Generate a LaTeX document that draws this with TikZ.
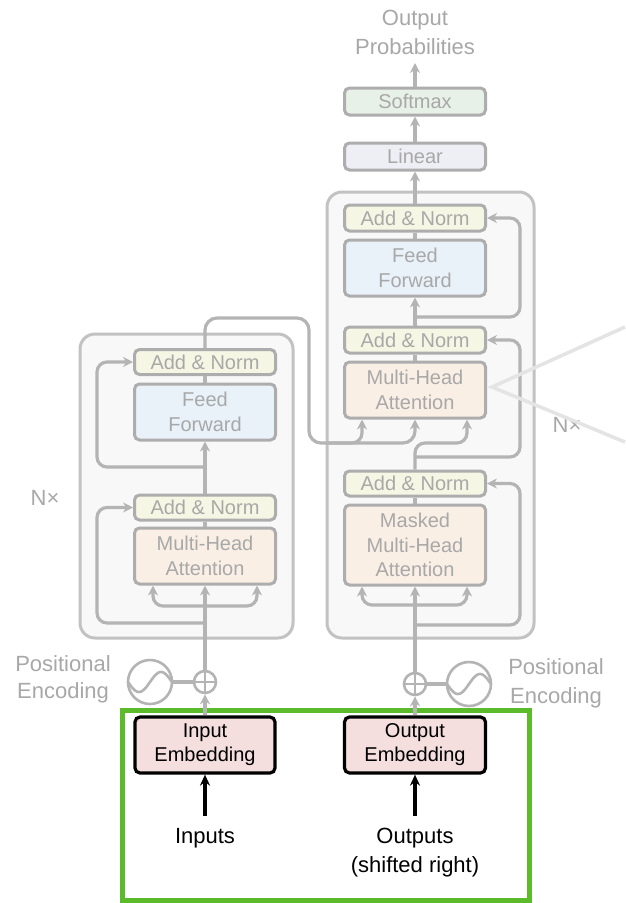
\documentclass[tikz,border=0pt]{standalone}
\usepackage{fontspec}
\setmainfont{Liberation Sans}
\usetikzlibrary{arrows.meta,calc}
\definecolor{textgray}{HTML}{A8A8A8}
\definecolor{linegray}{HTML}{B4B4B4}
\definecolor{boxgray}{HTML}{ADADAD}
\definecolor{biggray}{HTML}{C2C2C2}
\definecolor{bigfill}{HTML}{F8F8F8}
\definecolor{anfill}{HTML}{F6F6E4}
\definecolor{fffill}{HTML}{E9F1F9}
\definecolor{mhafill}{HTML}{F9EFE5}
\definecolor{smfill}{HTML}{E8F1E7}
\definecolor{linfill}{HTML}{EEEEF5}
\definecolor{embfill}{HTML}{F4DEDE}
\definecolor{hlgreen}{HTML}{5CBB2A}
\definecolor{chevgray}{HTML}{E4E4E4}
\newcommand{\bxfont}{\fontsize{20}{25}\selectfont}
\newcommand{\lbfont}{\fontsize{22}{29}\selectfont}
\newcommand{\embfont}{\fontsize{20}{24}\selectfont}
\begin{document}
\begin{tikzpicture}[x=1pt,y=-1pt,
  conn/.style={draw=linegray, line width=3.2pt},
  arr/.style={-{Stealth[length=10pt,width=10pt]}},
  blk/.style={draw=black, line width=3.2pt, -{Stealth[length=11pt,width=10pt]}},
  fbox/.style={draw=boxgray, line width=3pt, rounded corners=5pt, minimum width=141pt, inner sep=0pt, align=center, text=textgray, font=\bxfont},
  embbox/.style={draw=black, line width=3.2pt, fill=embfill, rounded corners=5pt, minimum width=140pt, minimum height=56pt, inner sep=0pt, align=center, text=black, font=\embfont},
  big/.style={draw=biggray, line width=3pt, fill=bigfill, rounded corners=15pt, inner sep=0pt},
  lbl/.style={text=textgray, font=\lbfont, align=center, inner sep=0pt},
  blbl/.style={text=black, font=\lbfont, align=center, inner sep=0pt},
  ring/.style={circle, draw=linegray, line width=2.6pt, inner sep=0pt},
]
\useasboundingbox (0,0) rectangle (625,903);
\fill[white] (0,0) rectangle (625,903);

% big stack boxes
\node[big, minimum width=213pt, minimum height=304pt] (encbox) at (186.5,486) {};
\node[big, minimum width=207pt, minimum height=446pt] (decbox) at (430.5,415) {};

% encoder boxes
\node[fbox, fill=anfill, minimum height=25pt] (ean2) at (205,362) {Add \& Norm};
\node[fbox, fill=fffill, minimum height=56pt] (eff) at (205,412) {Feed\\Forward};
\node[fbox, fill=anfill, minimum height=25pt] (ean1) at (205,507.5) {Add \& Norm};
\node[fbox, fill=mhafill, minimum height=56pt] (emha) at (205,556) {Multi-Head\\Attention};

% decoder boxes
\node[fbox, fill=smfill, minimum height=27pt] (softmax) at (415,101.5) {Softmax};
\node[fbox, fill=linfill, minimum height=27pt] (linear) at (415,156.5) {Linear};
\node[fbox, fill=anfill, minimum height=26pt] (dan3) at (415,218) {Add \& Norm};
\node[fbox, fill=fffill, minimum height=56pt] (dff) at (415,268) {Feed\\Forward};
\node[fbox, fill=anfill, minimum height=26pt] (dan2) at (415,340) {Add \& Norm};
\node[fbox, fill=mhafill, minimum height=56pt] (dmha) at (415,390) {Multi-Head\\Attention};
\node[fbox, fill=anfill, minimum height=25pt] (dan1) at (415,483.5) {Add \& Norm};
\node[fbox, fill=mhafill, minimum height=80pt, font=\fontsize{20}{24.5}\selectfont] (dmmha) at (415,545) {Masked\\Multi-Head\\Attention};

% labels
\node[lbl] (outprob) at (415,32.5) {Output\\Probabilities};
\node[lbl] (encN) at (45,498) {N×};
\node[lbl] (decN) at (567,425) {N×};
\node[lbl, font=\fontsize{22}{27}\selectfont] (epos) at (63,679) {Positional\\Encoding};
\node[lbl, font=\fontsize{22}{29}\selectfont] (dpos) at (556,683) {Positional\\Encoding};

% positional encoding symbols
\node[ring, minimum size=22pt] (eplus) at (205,682) {};
\node[ring, minimum size=44pt] (esin) at (150,682) {};
\node[ring, minimum size=22pt] (dplus) at (415,684) {};
\node[ring, minimum size=44pt] (dsin) at (469,684) {};
\foreach \p in {eplus,dplus}{
  \draw[linegray, line width=2.2pt] (\p.north) -- (\p.south) (\p.west) -- (\p.east);
}
\foreach \s in {esin,dsin}{
  \begin{scope}[shift={(\s.center)}]
    \draw[linegray, line width=2.6pt] plot[domain=-22:22, samples=40, smooth] (\x,{-10*sin(\x/22*180)});
  \end{scope}
}

% embeddings and inputs
\node[embbox] (ie) at (205,745) {Input\\Embedding};
\node[embbox, minimum width=141pt] (oe) at (415,745) {Output\\Embedding};
\node[blbl] (inputs) at (205,838) {Inputs};
\node[blbl] (outputs) at (415,852.5) {Outputs\\(shifted right)};

% highlight
\node[draw=hlgreen, line width=5pt, minimum width=407pt, minimum height=190pt, inner sep=0pt] (hl) at (326,805) {};

% ---------- connectors: bottom
\draw[blk, shorten <=12pt] (inputs.north) -- (ie.south);
\draw[blk, shorten <=12pt] (outputs.north) -- (oe.south);
\draw[conn, arr] (ie.north) -- (eplus.south);
\draw[conn, arr] (oe.north) -- (dplus.south);
\draw[conn] (esin.east) -- (eplus.west);
\draw[conn] (dplus.east) -- (dsin.west);

% ---------- encoder
\coordinate (eb) at (205,606);
\coordinate (er1) at (205,623);
\coordinate (er1c) at (97,623);
\coordinate (er2) at (205,467);
\coordinate (er2c) at (97,467);
\coordinate (eo1) at (205,318);
\coordinate (eo2) at (309,318);
\coordinate (eo3) at (309,443);
\draw[conn, arr] (eplus.north) -- (emha.south);
\draw[conn, arr, rounded corners=10pt] (eb) -| ([xshift=-52pt]emha.south);
\draw[conn, arr, rounded corners=10pt] (eb) -| ([xshift=52pt]emha.south);
\draw[conn, arr, rounded corners=10pt] (er1) -- (er1c) |- (ean1.west);
\draw[conn] (emha.north) -- (ean1.south);
\draw[conn, arr] (ean1.north) -- (eff.south);
\draw[conn, arr, rounded corners=10pt] (er2) -- (er2c) |- (ean2.west);
\draw[conn] (eff.north) -- (ean2.south);
\draw[conn, arr, rounded corners=12pt] (ean2.north) -- (eo1) -- (eo2) -- (eo3) -| (dmha.south);
\draw[conn, arr, rounded corners=10pt] ([xshift=20pt]eo3) -| ([xshift=-53pt]dmha.south);

% ---------- decoder
\coordinate (db) at (415,605);
\coordinate (dr1) at (415,625);
\coordinate (dr1c) at (520,625);
\coordinate (dr2) at (415,457);
\coordinate (dr2c) at (520,457);
\coordinate (dr3) at (415,317);
\coordinate (dr3c) at (520,317);
\coordinate (ptip) at (415,63);
\draw[conn, arr] (dplus.north) -- (dmmha.south);
\draw[conn, arr, rounded corners=10pt] (db) -| ([xshift=-53pt]dmmha.south);
\draw[conn, arr, rounded corners=10pt] (db) -| ([xshift=52pt]dmmha.south);
\draw[conn, arr, rounded corners=10pt] (dr1) -- (dr1c) |- (dan1.east);
\draw[conn] (dmmha.north) -- (dan1.south);
\draw[conn, arr, rounded corners=10pt] (dan1.north) -- (dmha.south |- eo3) -| ([xshift=52pt]dmha.south);
\draw[conn, arr, rounded corners=10pt] (dr2) -- (dr2c) |- (dan2.east);
\draw[conn] (dmha.north) -- (dan2.south);
\draw[conn, arr] (dan2.north) -- (dff.south);
\draw[conn, arr, rounded corners=10pt] (dr3) -- (dr3c) |- (dan3.east);
\draw[conn] (dff.north) -- (dan3.south);
\draw[conn, arr] (dan3.north) -- (linear.south);
\draw[conn, arr] (linear.north) -- (softmax.south);
\draw[conn, arr] (softmax.north) -- (ptip);

% chevron overlay
\coordinate (cv1) at (625,327);
\coordinate (cv2) at (492,387);
\coordinate (cv3) at (625,442);
\draw[chevgray, line width=3.5pt] (cv1) -- (cv2) -- (cv3);
\end{tikzpicture}
\end{document}
